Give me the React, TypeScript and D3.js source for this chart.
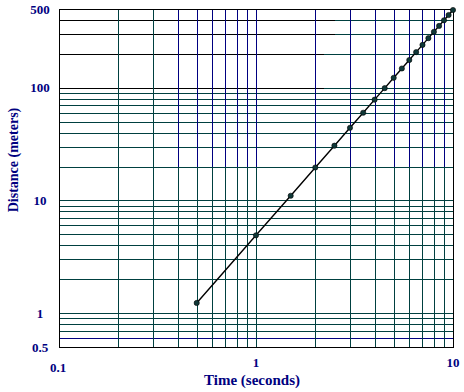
import * as d3 from "d3";

// free fall: distance vs time, log-log
const times = [0.5, 1, 1.5, 2, 2.5, 3, 3.5, 4, 4.5, 5, 5.5, 6, 6.5, 7, 7.5, 8, 8.5, 9, 9.5, 10];
const distances = [
  1.23, 4.9, 11.0, 19.6, 30.6, 44.1, 60.0, 78.4, 99.2, 122.5, 148.2, 176.4, 207.0, 240.1,
  275.6, 313.6, 354.0, 396.9, 442.2, 490,
];

const xGrid = [0.2, 0.3, 0.4, 0.5, 0.6, 0.7, 0.8, 0.9, 1, 2, 3, 4, 5, 6, 7, 8, 9];
const yGrid = [0.6, 0.7, 0.8, 0.9, 1, 2, 3, 4, 5, 6, 7, 8, 9, 10, 20, 30, 40, 50, 60, 70, 80, 90, 100, 200, 300, 400];
const xTicks = [0.1, 1, 10];
const yTicks = [500, 100, 10, 1, 0.5];

// upper gridlines that are partly black (value -> time where black part ends)
const blackRows: [number, number][] = [
  [400, 2.5],
  [300, 2.5],
  [200, 2.2],
  [100, 2.2],
];

const W = 464;
const H = 392;
const TEAL = "#004040";
const NAVY = "#000080";
const FONT = "'Liberation Serif', 'Times New Roman', serif";

export default function App() {
  const x = d3.scaleLog().domain([0.1, 10]).range([59, 453]);
  const y = d3.scaleLog().domain([0.5, 500]).range([347, 9]);
  const px = (v: number) => Math.round(x(v)) + 0.5;
  const py = (v: number) => Math.round(y(v)) + 0.5;

  const [x0, x1] = x.range();
  const [y0, y1] = y.range();

  const pts = times.map((t, i) => ({ t, d: distances[i] }));
  const line = d3
    .line<{ t: number; d: number }>()
    .x((p) => x(p.t))
    .y((p) => y(p.d));

  return (
    <svg
      width={W}
      height={H}
      style={{ position: "absolute", left: 0, top: 0, background: "#fff" }}
    >
      <g shapeRendering="crispEdges" strokeWidth={1}>
        {/* horizontal grid */}
        {yGrid.map((v) => (
          <line
            key={"h" + v}
            x1={x0}
            x2={x1}
            y1={py(v)}
            y2={py(v)}
            stroke={v === 0.6 ? NAVY : TEAL}
          />
        ))}
        {blackRows.map(([v, end]) => (
          <line key={"b" + v} x1={x0} x2={px(end)} y1={py(v)} y2={py(v)} stroke="#000" />
        ))}
        {/* vertical grid: blue on top part, teal below 20 m */}
        {xGrid.map((v) => (
          <g key={"v" + v}>
            <line
              x1={px(v)}
              x2={px(v)}
              y1={y(20)}
              y2={y0}
              stroke={TEAL}
            />
            <line
              x1={px(v)}
              x2={px(v)}
              y1={y1}
              y2={y(20)}
              stroke={v >= 0.4 ? NAVY : TEAL}
            />
          </g>
        ))}
        {/* frame */}
        <rect
          x={x0 + 0.5}
          y={y1 + 0.5}
          width={x1 - x0}
          height={y0 - y1}
          fill="none"
          stroke="#000"
          strokeWidth={1.5}
        />
      </g>

      <path d={line(pts) ?? ""} fill="none" stroke="#000" strokeWidth={1.4} />
      {pts.map((p) => (
        <circle
          key={p.t}
          cx={x(p.t)}
          cy={y(p.d)}
          r={2.6}
          fill="#103838"
          stroke="#000"
          strokeWidth={0.6}
        />
      ))}

      {/* tick labels */}
      <g fill={NAVY} fontFamily={FONT} fontWeight="bold" fontSize={13} textAnchor="middle">
        {yTicks.map((v) => (
          <text key={"yt" + v} x={40} y={Math.max(y(v), 7) + 4.5}>
            {v}
          </text>
        ))}
        {xTicks.map((v, i) => (
          <text key={"xt" + v} x={x(v) - (i === 0 ? 1 : 0)} y={i === 0 ? 372 : 367}>
            {v}
          </text>
        ))}
      </g>

      {/* axis titles */}
      <text
        x={252}
        y={385}
        fill={NAVY}
        fontFamily={FONT}
        fontWeight="bold"
        fontSize={15}
        textAnchor="middle"
      >
        Time (seconds)
      </text>
      <text
        transform={`translate(18,160) rotate(-90)`}
        fill={NAVY}
        fontFamily={FONT}
        fontWeight="bold"
        fontSize={14}
        textAnchor="middle"
      >
        Distance (meters)
      </text>
    </svg>
  );
}
